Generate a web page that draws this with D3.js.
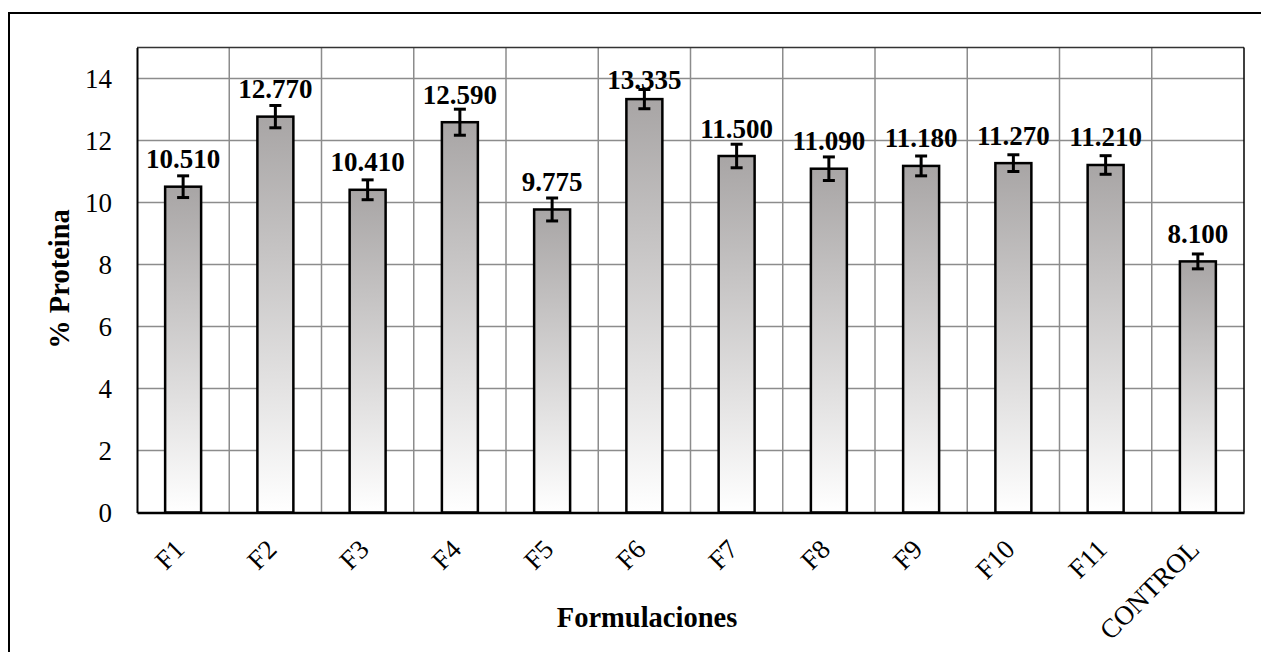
<!DOCTYPE html>
<html><head><meta charset="utf-8">
<script src="https://cdn.jsdelivr.net/npm/d3@7"></script>
<style>body{margin:0;background:#fff}svg{display:block}</style>
</head><body>
<script>
const categories = ["F1","F2","F3","F4","F5","F6","F7","F8","F9","F10","F11","CONTROL"];
const values = [10.510,12.770,10.410,12.590,9.775,13.335,11.500,11.090,11.180,11.270,11.210,8.100];
const errors = [0.35,0.36,0.32,0.42,0.37,0.31,0.38,0.38,0.32,0.27,0.30,0.24];
const labels = ["10.510","12.770","10.410","12.590","9.775","13.335","11.500","11.090","11.180","11.270","11.210","8.100"];
const yTicks = [0,2,4,6,8,10,12,14];

const W = 1261, H = 652;
const m = {left:137, right:1244, top:47.5, bottom:512.5};
const svg = d3.select("body").append("svg").attr("width",W).attr("height",H);
const defs = svg.append("defs");
const g = defs.append("linearGradient").attr("id","barGrad").attr("x1",0).attr("y1",0).attr("x2",0).attr("y2",1);
g.append("stop").attr("offset","0%").attr("stop-color","#a8a5a5");
g.append("stop").attr("offset","100%").attr("stop-color","#ffffff");

// outer chart border
svg.append("rect").attr("x",9).attr("y",13).attr("width",1300).attr("height",700)
  .attr("fill","none").attr("stroke","#000").attr("stroke-width",2);

const x = d3.scaleBand().domain(categories).range([m.left,m.right]).padding(0);
const y = d3.scaleLinear().domain([0,15]).range([m.bottom,m.top]);

// gridlines
svg.append("g").selectAll("line.h").data(yTicks.filter(d=>d>0)).join("line")
  .attr("x1",m.left).attr("x2",m.right).attr("y1",d=>y(d)).attr("y2",d=>y(d))
  .attr("stroke","#8c8c8c").attr("stroke-width",1.5);
svg.append("g").selectAll("line.v").data(categories.slice(1)).join("line")
  .attr("x1",d=>x(d)).attr("x2",d=>x(d)).attr("y1",m.top).attr("y2",m.bottom)
  .attr("stroke","#8c8c8c").attr("stroke-width",1.5);

// plot frame
svg.append("line").attr("x1",m.left).attr("x2",m.right).attr("y1",m.top).attr("y2",m.top).attr("stroke","#333").attr("stroke-width",1.5);
svg.append("line").attr("x1",m.right).attr("x2",m.right).attr("y1",m.top).attr("y2",m.bottom).attr("stroke","#000").attr("stroke-width",1.5);

// bars
const bw = x.bandwidth()*0.39;
const data = categories.map((c,i)=>({c,v:values[i],e:errors[i],l:labels[i]}));
svg.append("g").selectAll("rect").data(data).join("rect")
  .attr("x",d=>x(d.c)+x.bandwidth()/2-bw/2).attr("width",bw)
  .attr("y",d=>y(d.v)).attr("height",d=>y(0)-y(d.v))
  .attr("fill","url(#barGrad)").attr("stroke","#000").attr("stroke-width",2.5);

// axes lines
const yAxis = d3.axisLeft(y).tickValues(yTicks).tickSize(0).tickPadding(25);
const ya = svg.append("g").attr("transform",`translate(${m.left},0)`).call(yAxis);
ya.select(".domain").attr("stroke","#000").attr("stroke-width",2);
ya.selectAll("text").attr("font-family","'Liberation Serif','Times New Roman',serif").attr("font-size",27).attr("fill","#000");

const xAxis = d3.axisBottom(x).tickSize(0).tickFormat("");
const xa = svg.append("g").attr("transform",`translate(0,${m.bottom})`).call(xAxis);
xa.select(".domain").attr("stroke","#000").attr("stroke-width",2.5);

// x tick labels (rotated)
svg.append("g").selectAll("text").data(categories).join("text")
  .attr("transform",d=>`translate(${x(d)+x.bandwidth()/2+3},551) rotate(-45)`)
  .attr("text-anchor","end")
  .attr("font-family","'Liberation Serif','Times New Roman',serif").attr("font-size",27).attr("fill","#000")
  .text(d=>d);

// error bars
const eb = svg.append("g").attr("stroke","#000").attr("stroke-width",3);
data.forEach(d=>{
  const cx = x(d.c)+x.bandwidth()/2;
  eb.append("line").attr("x1",cx).attr("x2",cx).attr("y1",y(d.v+d.e)).attr("y2",y(d.v-d.e));
  eb.append("line").attr("x1",cx-6).attr("x2",cx+6).attr("y1",y(d.v+d.e)).attr("y2",y(d.v+d.e));
  eb.append("line").attr("x1",cx-6).attr("x2",cx+6).attr("y1",y(d.v-d.e)).attr("y2",y(d.v-d.e));
});

// data labels
svg.append("g").selectAll("text").data(data).join("text")
  .attr("x",d=>x(d.c)+x.bandwidth()/2)
  .attr("y",d=>Math.max(y(d.v)-18.5, m.top+41))
  .attr("text-anchor","middle")
  .attr("font-family","'Liberation Serif','Times New Roman',serif").attr("font-weight","bold").attr("font-size",27).attr("fill","#000")
  .text(d=>d.l);

// axis titles
svg.append("text").attr("x",647).attr("y",627).attr("text-anchor","middle")
  .attr("font-family","'Liberation Serif','Times New Roman',serif").attr("font-weight","bold").attr("font-size",28.5)
  .text("Formulaciones");
svg.append("text").attr("transform","translate(69,279) rotate(-90)").attr("text-anchor","middle")
  .attr("font-family","'Liberation Serif','Times New Roman',serif").attr("font-weight","bold").attr("font-size",28.5)
  .text("% Proteina");
</script>
</body></html>
